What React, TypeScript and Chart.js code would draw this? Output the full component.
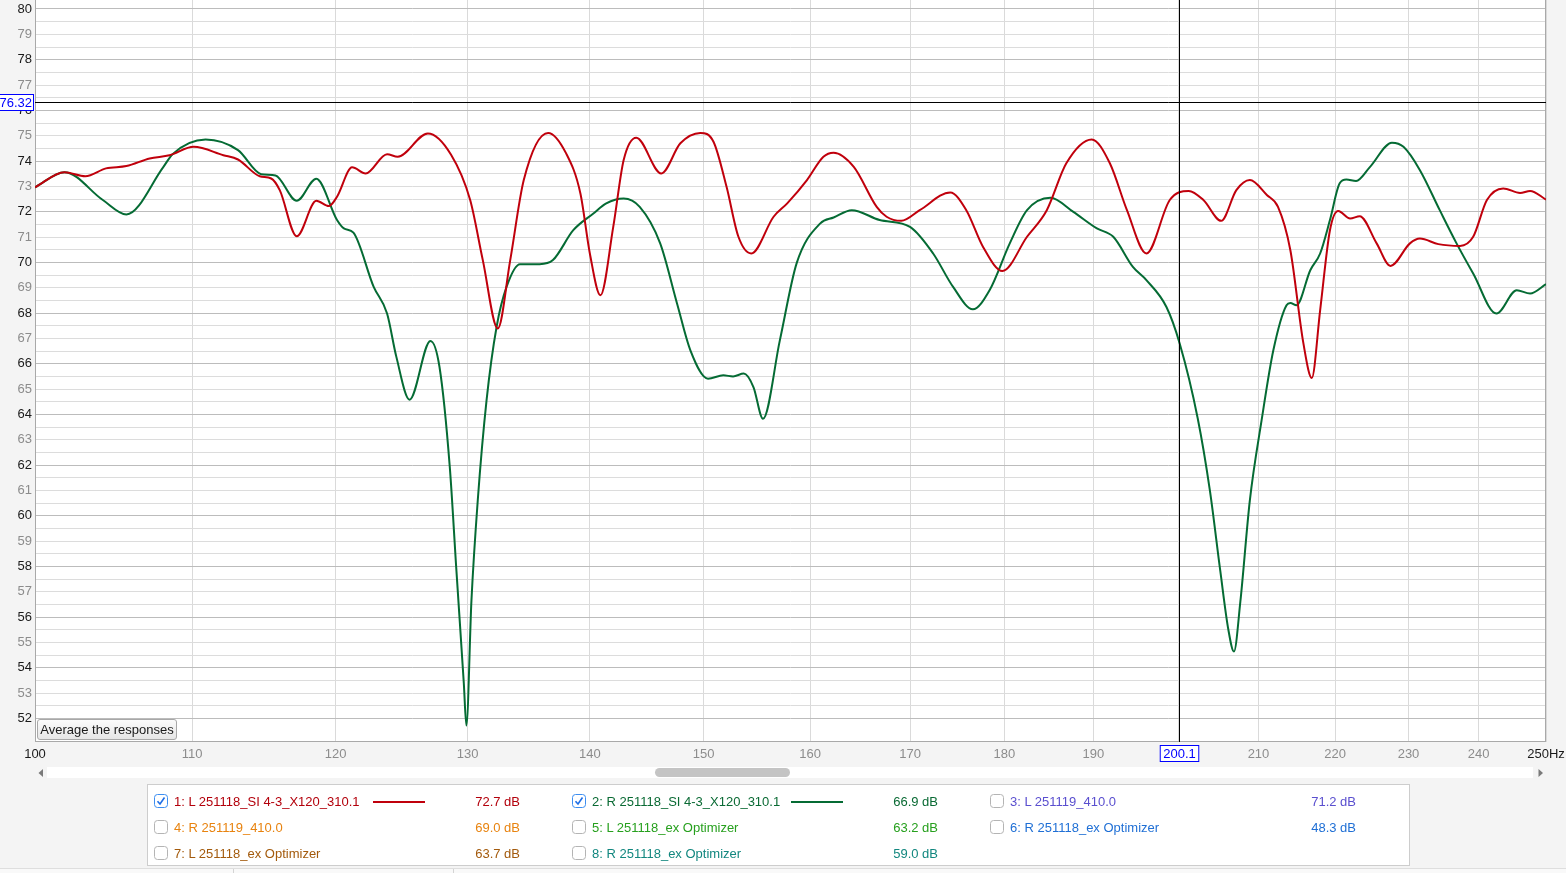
import React, { useEffect, useRef } from 'react';
import { Chart, registerables } from 'chart.js';

Chart.register(...registerables);

// ---- Data (frequency in Hz, level in dB SPL) ----
const RED_HZ = [
  100.0, 101.8, 103.1, 104.4, 105.7, 107.2, 108.5, 110.1, 112.1, 113.1, 114.6, 115.4, 116.0, 117.2, 118.6,
  119.5, 120.1, 121.2, 122.2, 123.8, 124.6, 126.9, 128.7, 130.2, 131.2, 132.4, 133.4, 134.5, 136.5, 138.0,
  139.2, 140.0, 140.9, 142.0, 142.9, 144.0, 146.2, 147.9, 149.7, 150.9, 152.1, 153.2, 154.4, 156.5, 157.8,
  159.7, 161.3, 162.3, 164.3, 166.6, 167.6, 169.1, 171.0, 174.2, 175.9, 177.7, 179.8, 182.5, 184.7, 186.9,
  189.8, 191.9, 193.9, 196.2, 199.0, 201.3, 203.1, 205.3, 207.2, 208.9, 211.1, 212.5, 214.1, 215.8, 216.9,
  218.0, 219.3, 220.4, 222.0, 223.3, 225.6, 227.5, 230.2, 231.6, 234.2, 237.3, 239.2, 241.2, 243.6, 246.1,
  247.6, 250.0,
];
const RED_DB = [
  72.96, 73.56, 73.4, 73.71, 73.8, 74.1, 74.23, 74.56, 74.23, 74.06, 73.4, 73.31, 72.85, 71.03, 72.43,
  72.22, 72.59, 73.75, 73.51, 74.27, 74.17, 75.09, 74.25, 72.46, 70.09, 67.39, 70.09, 73.25, 75.11, 74.3,
  72.72, 70.35, 68.7, 71.4, 74.04, 74.92, 73.51, 74.7, 75.11, 74.76, 72.98, 71.01, 70.35, 71.8, 72.33,
  73.25, 74.17, 74.33, 73.77, 72.19, 71.8, 71.64, 72.06, 72.76, 72.06, 70.61, 69.66, 71.01, 72.06, 73.91,
  74.85, 73.91, 72.06, 70.35, 72.46, 72.82, 72.46, 71.64, 72.85, 73.25, 72.65, 72.19, 70.48, 66.8, 65.44,
  68.11, 71.27, 72.03, 71.73, 71.82, 70.75, 69.86, 70.75, 70.94, 70.72, 70.65, 71.01, 72.46, 72.92, 72.74,
  72.82, 72.48,
];

const GREEN_HZ = [
  100.0, 101.8, 104.2, 105.7, 108.1, 108.7, 110.9, 113.1, 114.7, 115.7, 117.2, 118.6, 120.1, 120.6, 121.3,
  122.8, 123.8, 124.5, 125.5, 127.1, 127.8, 128.6, 129.1, 129.7, 129.9, 130.3, 130.8, 131.5, 132.3, 133.1,
  134.2, 135.8, 136.9, 138.6, 140.3, 141.4, 142.9, 144.3, 146.1, 147.6, 148.8, 150.4, 151.8, 152.7, 153.7,
  154.6, 155.5, 157.1, 158.7, 161.0, 162.3, 164.1, 166.9, 170.0, 172.4, 174.5, 176.6, 178.4, 180.6, 182.5,
  185.1, 187.7, 190.4, 192.3, 194.6, 196.2, 198.6, 200.2, 202.4, 203.9, 205.2, 206.2, 206.9, 207.7, 208.9,
  210.4, 211.9, 213.6, 214.1, 214.9, 216.7, 218.0, 219.3, 220.6, 221.5, 222.8, 224.7, 227.7, 229.3, 231.6,
  234.4, 236.8, 239.2, 242.6, 245.6, 247.6, 250.0,
];
const GREEN_DB = [
  72.96, 73.56, 72.46, 71.89, 73.77, 74.27, 74.85, 74.43, 73.48, 73.43, 72.43, 73.3, 71.67, 71.34, 71.17,
  69.03, 67.98, 66.27, 64.58, 66.9, 65.87, 61.92, 57.97, 53.37, 51.72, 56.66, 60.61, 64.56, 67.45, 69.03,
  69.93, 69.93, 70.09, 71.27, 71.93, 72.33, 72.52, 72.19, 70.75, 68.38, 66.53, 65.41, 65.54, 65.5, 65.61,
  65.08, 63.83, 66.93, 69.96, 71.54, 71.77, 72.06, 71.67, 71.4, 70.35, 69.03, 68.15, 68.9, 70.75, 72.06,
  72.55, 71.99, 71.34, 71.01, 69.82, 69.3, 68.24, 66.8, 63.85, 61.0, 57.8, 55.5, 54.64, 56.6, 60.6,
  63.77, 66.53, 68.31, 68.4, 68.31, 69.69, 70.35, 71.67, 73.12, 73.27, 73.21, 73.77, 74.72, 74.56, 73.64,
  72.06, 70.75, 69.56, 67.98, 68.9, 68.77, 69.14,
];

const X_TICKS = [100, 110, 120, 130, 140, 150, 160, 170, 180, 190, 200, 210, 220, 230, 240, 250];
const Y_LABELS = [52, 53, 54, 55, 56, 57, 58, 59, 60, 61, 62, 63, 64, 65, 66, 67, 68, 69, 70, 71, 72, 73, 74, 75, 76, 77, 78, 79, 80];
const X_MIN = 100;
const X_MAX = 250;
const Y_MIN = 51.07;
const Y_MAX = 80.355;
const CURSOR_HZ = 200.1;
const CURSOR_DB = 76.32;

const SERIES_NAMES = ['1: L 251118_SI 4-3_X120_310.1', '2: R 251118_SI 4-3_X120_310.1'];
const SERIES_COLORS = ['#c0000c', '#056b34'];

const LEGEND_LABELS = [
  '1: L 251118_SI 4-3_X120_310.1',
  '2: R 251118_SI 4-3_X120_310.1',
  '3: L 251119_410.0',
  '4: R 251119_410.0',
  '5: L 251118_ex Optimizer',
  '6: R 251118_ex Optimizer',
  '7: L 251118_ex Optimizer',
  '8: R 251118_ex Optimizer',
];
const LEGEND_VALUES = ['72.7 dB', '66.9 dB', '71.2 dB', '69.0 dB', '63.2 dB', '48.3 dB', '63.7 dB', '59.0 dB'];
const LEGEND_COLORS = ['#b3000b', '#0a6a34', '#5a4fcf', '#e8830f', '#27a01e', '#1f6fd5', '#a35a0c', '#12877f'];
const LEGEND_CHECKED = [true, true, false, false, false, false, false, false];

const FONT = '"Liberation Sans", Arial, Helvetica, sans-serif';

// Y grid lines every half dB, built from the integer labels
const Y_GRID: number[] = [];
Y_LABELS.forEach((v, i) => {
  Y_GRID.push(v);
  if (i < Y_LABELS.length - 1) Y_GRID.push(v + 0.5);
});

const plotPlugin = {
  id: 'rewPlot',
  beforeDraw(chart: any) {
    const { ctx, chartArea } = chart;
    ctx.save();
    ctx.fillStyle = '#ffffff';
    ctx.fillRect(chartArea.left, chartArea.top, chartArea.right - chartArea.left, chartArea.bottom - chartArea.top);
    ctx.restore();
  },
  beforeDatasetsDraw(chart: any) {
    const { ctx, chartArea } = chart;
    ctx.save();
    ctx.strokeStyle = '#a9a9a9';
    ctx.lineWidth = 1;
    ctx.strokeRect(chartArea.left + 0.5, chartArea.top - 0.5, chartArea.right - chartArea.left - 1, chartArea.bottom - chartArea.top);
    ctx.restore();
  },
  afterDatasetsDraw(chart: any) {
    const { ctx, chartArea } = chart;
    const xs = chart.scales.x;
    const ys = chart.scales.y;
    const cx = Math.round(xs.getPixelForValue(CURSOR_HZ)) + 0.5;
    const cy = Math.round(ys.getPixelForValue(CURSOR_DB)) + 0.5;
    ctx.save();
    ctx.strokeStyle = '#000000';
    ctx.lineWidth = 1;
    ctx.beginPath();
    ctx.moveTo(chartArea.left, cy);
    ctx.lineTo(chartArea.right, cy);
    ctx.moveTo(cx, chartArea.top);
    ctx.lineTo(cx, chartArea.bottom);
    ctx.stroke();

    ctx.font = '13px ' + FONT;
    ctx.textBaseline = 'middle';
    // y cursor label
    const yText = CURSOR_DB.toFixed(2);
    const yw = ctx.measureText(yText).width + 3;
    const yBoxRight = chartArea.left - 2;
    ctx.fillStyle = '#ffffff';
    ctx.fillRect(yBoxRight - yw, cy - 8, yw, 16);
    ctx.strokeStyle = '#0000ff';
    ctx.strokeRect(yBoxRight - yw + 0.5, cy - 8, yw, 16);
    ctx.fillStyle = '#0000ff';
    ctx.textAlign = 'right';
    ctx.fillText(yText, yBoxRight - 1, cy + 1);
    // x cursor label
    const xText = CURSOR_HZ.toFixed(1);
    const xw = ctx.measureText(xText).width + 6;
    const top = chartArea.bottom + 3.5;
    ctx.fillStyle = '#ffffff';
    ctx.fillRect(cx - xw / 2, top, xw, 16);
    ctx.strokeStyle = '#0000ff';
    ctx.strokeRect(cx - xw / 2, top, xw, 16);
    ctx.fillStyle = '#0000ff';
    ctx.textAlign = 'center';
    ctx.fillText(xText, cx, top + 8.5);
    ctx.restore();
  },
};

function Checkbox({ checked }: { checked: boolean }) {
  return (
    <svg width="14" height="14" viewBox="0 0 14 14" style={{ display: 'block' }}>
      <rect
        x="0.5"
        y="0.5"
        width="13"
        height="13"
        rx="3"
        fill="#ffffff"
        stroke={checked ? '#3d8ef0' : '#b4b4b4'}
        strokeWidth="1"
      />
      {checked && <path d="M3.5 7.2 L6 10 L10.5 3.5" fill="none" stroke="#1f6fe6" strokeWidth="1.6" />}
    </svg>
  );
}

export default function App() {
  const canvasRef = useRef<HTMLCanvasElement | null>(null);

  useEffect(() => {
    document.body.style.margin = '0';
    document.body.style.background = '#f4f4f4';
    const canvas = canvasRef.current;
    if (!canvas) return;
    Chart.defaults.font.family = FONT;
    const chart = new Chart(canvas, {
      type: 'line',
      data: {
        datasets: [
          {
            label: SERIES_NAMES[0],
            data: RED_HZ.map((x, i) => ({ x, y: RED_DB[i] })),
            borderColor: SERIES_COLORS[0],
            borderWidth: 2,
            pointRadius: 0,
            cubicInterpolationMode: 'monotone',
            fill: false,
          },
          {
            label: SERIES_NAMES[1],
            data: GREEN_HZ.map((x, i) => ({ x, y: GREEN_DB[i] })),
            borderColor: SERIES_COLORS[1],
            borderWidth: 2,
            pointRadius: 0,
            cubicInterpolationMode: 'monotone',
            fill: false,
          },
        ],
      },
      options: {
        animation: false,
        responsive: false,
        devicePixelRatio: 1,
        layout: { padding: { left: 0, right: 20, top: 0, bottom: 0 } },
        plugins: { legend: { display: false }, tooltip: { enabled: false } },
        scales: {
          x: {
            type: 'logarithmic',
            min: X_MIN,
            max: X_MAX,
            afterBuildTicks: (axis: any) => {
              axis.ticks = X_TICKS.map((v) => ({ value: v }));
            },
            afterFit: (axis: any) => {
              axis.height = 23;
              axis.paddingLeft = 0;
              axis.paddingRight = 0;
            },
            border: { display: false },
            grid: {
              color: '#dadada',
              drawTicks: false,
              lineWidth: 1,
            },
            ticks: {
              autoSkip: false,
              maxRotation: 0,
              minRotation: 0,
              padding: 5,
              font: { size: 13, family: FONT },
              color: (c: any) =>
                c.tick && (c.tick.value === X_MIN || c.tick.value === X_MAX) ? '#1a1a1a' : '#8c8c8c',
              callback: (v: any) => (v === X_MAX ? `${v}Hz` : v === 200 ? '' : String(v)),
            },
          },
          y: {
            type: 'linear',
            min: Y_MIN,
            max: Y_MAX,
            afterBuildTicks: (axis: any) => {
              axis.ticks = Y_GRID.map((v) => ({ value: v }));
            },
            afterFit: (axis: any) => {
              axis.width = 35;
              axis.paddingTop = 0;
              axis.paddingBottom = 0;
            },
            border: { display: false },
            grid: {
              drawTicks: false,
              lineWidth: 1,
              color: (c: any) => (c.tick && c.tick.value % 2 === 0 ? '#bcbcbc' : '#dcdcdc'),
            },
            ticks: {
              autoSkip: false,
              padding: 3,
              font: { size: 13, family: FONT },
              color: (c: any) => (c.tick && c.tick.value % 2 === 0 ? '#1a1a1a' : '#8c8c8c'),
              callback: (v: any) => (Number.isInteger(v) ? String(v) : ''),
            },
          },
        },
      } as any,
      plugins: [plotPlugin],
    });
    return () => chart.destroy();
  }, []);

  const rowY = [17, 43, 69];
  const colX = [7, 425, 843];

  return (
    <div
      style={{
        position: 'relative',
        width: 1566,
        height: 873,
        background: '#f4f4f4',
        overflow: 'hidden',
        fontFamily: FONT,
        fontSize: 13,
      }}
    >
      <canvas ref={canvasRef} width={1566} height={765} style={{ position: 'absolute', left: 0, top: 0, width: 1566, height: 765 }} />

      {/* Average button */}
      <div
        style={{
          position: 'absolute',
          left: 37,
          top: 719,
          width: 140,
          height: 21,
          boxSizing: 'border-box',
          border: '1px solid #a8a8a8',
          borderRadius: 3,
          background: 'linear-gradient(#fbfbfb, #e6e6e6)',
          color: '#1a1a1a',
          fontSize: 13,
          lineHeight: '19px',
          textAlign: 'center',
          whiteSpace: 'nowrap',
        }}
      >
        Average the responses
      </div>

      {/* Scrollbar */}
      <div style={{ position: 'absolute', left: 47, top: 767, width: 1486, height: 11, background: '#ffffff' }} />
      <div
        style={{ position: 'absolute', left: 655, top: 768, width: 135, height: 9, background: '#c4c4c4', borderRadius: 5 }}
      />
      <svg width="8" height="10" style={{ position: 'absolute', left: 37, top: 768 }}>
        <path d="M6 1 L1.5 5 L6 9 Z" fill="#7a7a7a" />
      </svg>
      <svg width="8" height="10" style={{ position: 'absolute', left: 1537, top: 768 }}>
        <path d="M1.5 1 L6 5 L1.5 9 Z" fill="#7a7a7a" />
      </svg>

      {/* Legend panel */}
      <div
        style={{
          position: 'absolute',
          left: 147,
          top: 784,
          width: 1263,
          height: 82,
          boxSizing: 'border-box',
          border: '1px solid #cdcdcd',
          background: '#ffffff',
        }}
      >
        {LEGEND_LABELS.map((label, i) => {
          const col = i % 3;
          const row = Math.floor(i / 3);
          const left = colX[col];
          const cy = rowY[row];
          const color = LEGEND_COLORS[i];
          return (
            <React.Fragment key={label + i}>
              <div style={{ position: 'absolute', left: left - 1, top: cy - 8 }}>
                <Checkbox checked={LEGEND_CHECKED[i]} />
              </div>
              <div
                style={{
                  position: 'absolute',
                  left: left + 19,
                  top: cy - 9,
                  height: 18,
                  lineHeight: '18px',
                  color,
                  whiteSpace: 'nowrap',
                }}
              >
                {label}
              </div>
              {i < 2 && (
                <div
                  style={{
                    position: 'absolute',
                    left: left + 218,
                    top: cy - 1,
                    width: 52,
                    height: 2,
                    background: SERIES_COLORS[i],
                  }}
                />
              )}
              <div
                style={{
                  position: 'absolute',
                  left: left + 260,
                  width: 105,
                  top: cy - 9,
                  height: 18,
                  lineHeight: '18px',
                  color,
                  textAlign: 'right',
                  whiteSpace: 'nowrap',
                }}
              >
                {LEGEND_VALUES[i]}
              </div>
            </React.Fragment>
          );
        })}
      </div>

      {/* bottom status strip */}
      <div style={{ position: 'absolute', left: 0, top: 868, width: 1566, height: 5, background: '#f9f9f9', borderTop: '1px solid #dedede' }} />
      <div style={{ position: 'absolute', left: 233, top: 869, width: 1, height: 4, background: '#d4d4d4' }} />
      <div style={{ position: 'absolute', left: 453, top: 869, width: 1, height: 4, background: '#d4d4d4' }} />
    </div>
  );
}
